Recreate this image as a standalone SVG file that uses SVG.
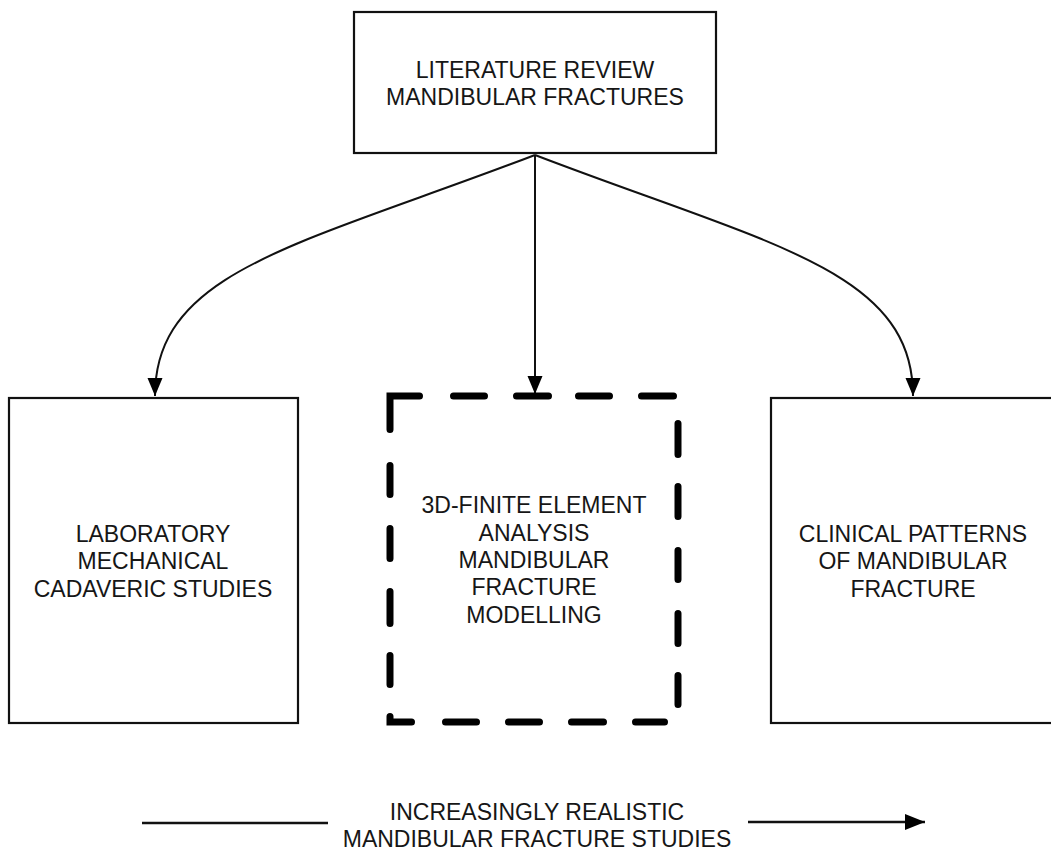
<svg xmlns="http://www.w3.org/2000/svg" width="1051" height="850" viewBox="0 0 1051 850">
<style>
.box{fill:#fff;stroke:#111;stroke-width:2.2}
.dash{fill:none;stroke:#000;stroke-width:7;stroke-linecap:round;stroke-linejoin:miter}
.lbl{font-family:"Liberation Sans",Arial,sans-serif;font-size:23px;fill:#161616;text-anchor:middle}
.conn{fill:none;stroke:#111;stroke-width:2}
</style>
<defs>
<marker id="ah" markerUnits="userSpaceOnUse" markerWidth="20" markerHeight="16" refX="18" refY="7.5" orient="auto">
<path d="M0,0 L18,7.5 L0,15 z" fill="#000"/>
</marker>
<marker id="ah2" markerUnits="userSpaceOnUse" markerWidth="22" markerHeight="17" refX="20" refY="8" orient="auto">
<path d="M0,0 L20,8 L0,16 z" fill="#000"/>
</marker>
</defs>
<rect width="1051" height="850" fill="#fff"/>
<g id="connectors">
<path class="conn" d="M535,155 C300,245 155,270 155,396" marker-end="url(#ah)"/>
<path class="conn" d="M535,155 L535,394" marker-end="url(#ah)"/>
<path class="conn" d="M535,155 C770,245 913,270 913,396" marker-end="url(#ah)"/>
</g>
<g id="node-literature">
<rect class="box" x="354" y="12" width="362" height="141"/>
<text class="lbl" x="535" y="78">LITERATURE REVIEW</text>
<text class="lbl" x="535" y="105">MANDIBULAR FRACTURES</text>
</g>
<g id="node-laboratory">
<rect class="box" x="9" y="398" width="289" height="325"/>
<text class="lbl" x="153" y="542">LABORATORY</text>
<text class="lbl" x="153" y="569">MECHANICAL</text>
<text class="lbl" x="153" y="597">CADAVERIC STUDIES</text>
</g>
<g id="node-fea">
<path class="dash" d="M390,429.5 L390,396 L419.5,396 M453.5,396 L484.5,396 M516.5,396 L548.5,396 M578.5,396 L609.5,396 M641.5,396 L673.5,396 M390,465.5 L390,494.5 M390,528.5 L390,558.5 M390,591.5 L390,623.5 M390,655.5 L390,684.5 M390,716.5 L390,722 L411.5,722 M445.5,722 L476.5,722 M508.5,722 L539.5,722 M571.5,722 L603.5,722 M635.5,722 L664.5,722 M678,423.5 L678,454.5 M678,486.5 L678,516.5 M678,550.5 L678,579.5 M678,613.5 L678,643.5 M678,675.5 L678,704.5"/>
<text class="lbl" x="534" y="513">3D-FINITE ELEMENT</text>
<text class="lbl" x="534" y="541">ANALYSIS</text>
<text class="lbl" x="534" y="568">MANDIBULAR</text>
<text class="lbl" x="534" y="595">FRACTURE</text>
<text class="lbl" x="534" y="623">MODELLING</text>
</g>
<g id="node-clinical">
<rect class="box" x="771" y="398" width="300" height="325"/>
<text class="lbl" x="913" y="542">CLINICAL PATTERNS</text>
<text class="lbl" x="913" y="569">OF MANDIBULAR</text>
<text class="lbl" x="913" y="597">FRACTURE</text>
</g>
<g id="scale">
<line x1="142" y1="823" x2="328" y2="823" stroke="#111" stroke-width="2.5"/>
<line x1="748" y1="822" x2="925" y2="822" stroke="#111" stroke-width="2.5" marker-end="url(#ah2)"/>
<text class="lbl" x="537" y="820">INCREASINGLY REALISTIC</text>
<text class="lbl" x="537" y="847">MANDIBULAR FRACTURE STUDIES</text>
</g>
</svg>
